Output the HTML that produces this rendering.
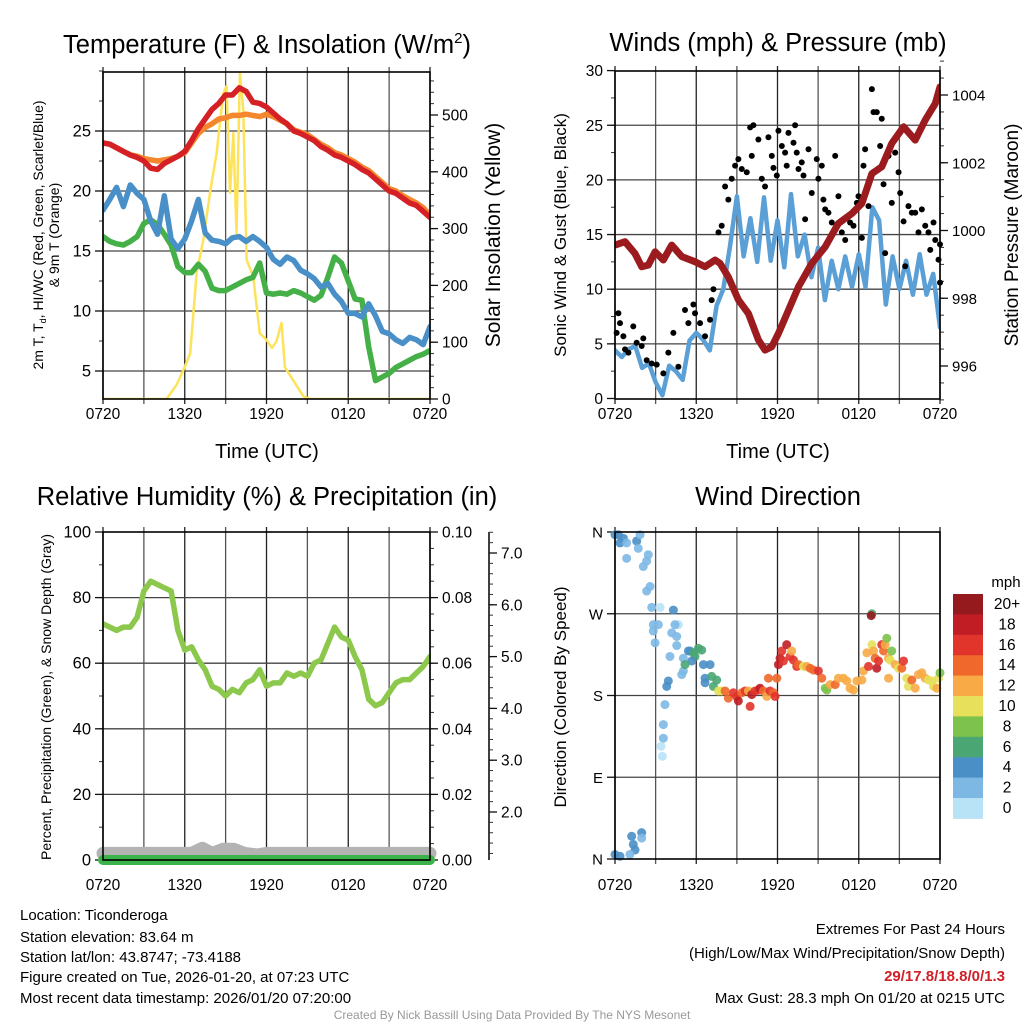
<!DOCTYPE html>
<html><head><meta charset="utf-8">
<style>
html,body{margin:0;padding:0;background:#fff;}
svg{display:block;font-family:"Liberation Sans",sans-serif;}
</style></head>
<body>
<svg id="root" width="1024" height="1024" viewBox="0 0 1024 1024" xmlns="http://www.w3.org/2000/svg">
<text x="267" y="53" font-size="25.5" text-anchor="middle">Temperature (F) &amp; Insolation (W/m<tspan dy="-10" font-size="15">2</tspan><tspan dy="10">)</tspan></text>
<text x="778" y="51" font-size="25.5" text-anchor="middle">Winds (mph) &amp; Pressure (mb)</text>
<text x="267" y="505" font-size="25.5" text-anchor="middle">Relative Humidity (%) &amp; Precipitation (in)</text>
<text x="778" y="505" font-size="25.5" text-anchor="middle">Wind Direction</text>
<text x="267" y="458" font-size="20" text-anchor="middle">Time (UTC)</text>
<text x="778" y="458" font-size="20" text-anchor="middle">Time (UTC)</text>
<text transform="translate(43,235) rotate(-90)" font-size="14" text-anchor="middle">2m T, T<tspan font-size="9" dy="3">d</tspan><tspan dy="-3">, HI/WC (Red, Green, Scarlet/Blue)</tspan></text>
<text transform="translate(59,235) rotate(-90)" font-size="14" text-anchor="middle">&amp; 9m T (Orange)</text>
<text transform="translate(500,235) rotate(-90)" font-size="21" text-anchor="middle">Solar Insolation (Yellow)</text>
<text transform="translate(566,235) rotate(-90)" font-size="17" text-anchor="middle">Sonic Wind &amp; Gust (Blue, Black)</text>
<text transform="translate(1018,235) rotate(-90)" font-size="19" text-anchor="middle">Station Pressure (Maroon)</text>
<text transform="translate(51,697) rotate(-90)" font-size="14" text-anchor="middle">Percent, Precipitation (Green), &amp; Snow Depth (Gray)</text>
<text transform="translate(566,697) rotate(-90)" font-size="17" text-anchor="middle">Direction (Colored By Speed)</text>
<g font-size="15">
<text x="20" y="920">Location: Ticonderoga</text>
<text x="20" y="942">Station elevation: 83.64 m</text>
<text x="20" y="962">Station lat/lon: 43.8747; -73.4188</text>
<text x="20" y="982">Figure created on Tue, 2026-01-20, at 07:23 UTC</text>
<text x="20" y="1003">Most recent data timestamp: 2026/01/20 07:20:00</text>
</g>
<g font-size="15" text-anchor="end">
<text x="1005" y="934">Extremes For Past 24 Hours</text>
<text x="1005" y="958">(High/Low/Max Wind/Precipitation/Snow Depth)</text>
<text x="1005" y="981" fill="#d01f26" font-weight="bold">29/17.8/18.8/0/1.3</text>
<text x="1005" y="1003">Max Gust: 28.3 mph On 01/20 at 0215 UTC</text>
</g>
<text x="512" y="1019" font-size="12" fill="#999" text-anchor="middle">Created By Nick Bassill Using Data Provided By The NYS Mesonet</text>
</svg>
<script>
// ---------- data ----------
const halfHours = [0,0.5,1,1.5,2,2.5,3,3.5,4,4.5,5,5.5,6,6.5,7,7.5,8,8.5,9,9.5,10,10.5,11,11.5,12,12.5,13,13.5,14,14.5,15,15.5,16,16.5,17,17.5,18,18.5,19,19.5,20,20.5,21,21.5,22,22.5,23,23.5,24];
const tempF = [24.0,23.9,23.6,23.3,23.0,22.8,22.5,21.9,21.8,22.3,22.6,22.9,23.3,24.2,25.2,26.0,26.8,27.3,28.0,28.0,28.6,28.3,27.4,27.3,27.0,26.5,26.0,25.6,25.0,24.8,24.5,24.2,23.7,23.4,23.0,22.8,22.5,22.2,21.8,21.5,21.0,20.5,20.0,19.8,19.4,19.0,18.8,18.3,17.8];
const temp9mF = [24.0,23.9,23.6,23.3,23.0,22.9,22.7,22.6,22.5,22.6,22.7,22.9,23.2,24.0,24.8,25.3,25.6,26.0,26.1,26.3,26.3,26.4,26.3,26.2,26.4,26.2,25.9,25.6,25.1,24.9,24.7,24.3,23.9,23.6,23.2,23.0,22.7,22.4,22.0,21.7,21.2,20.7,20.2,20.0,19.6,19.3,19.0,18.6,18.0];
const windChillF = [18.4,19.3,20.3,18.7,20.5,19.8,19.3,17.5,16.4,19.6,16.0,15.2,16.0,17.5,19.3,16.5,15.9,15.8,15.6,16.1,16.2,15.8,16.2,15.8,15.3,14.3,13.9,14.5,14.2,13.4,13.1,12.7,12.0,12.3,11.4,10.8,9.8,9.8,9.5,10.6,9.6,8.3,8.1,7.6,7.3,7.8,7.6,7.2,8.7];
const dewpointF = [16.2,15.8,15.6,15.5,15.8,16.2,17.3,17.6,17.2,16.4,15.5,13.7,13.2,13.2,13.9,13.3,11.9,11.7,11.7,12.0,12.3,12.6,12.8,14.0,11.5,11.4,11.5,11.4,11.7,11.5,11.2,10.9,11.3,12.8,14.5,14.0,12.5,11.0,10.9,7.0,4.2,4.5,4.8,5.3,5.6,5.9,6.2,6.4,6.7];
const solarHours = [0,4.67,5.4,5.9,6.4,6.87,7.36,7.85,8.34,8.83,9.07,9.32,9.56,9.8,10.05,10.3,10.54,11.03,11.5,12.0,12.4,12.74,13.1,13.35,13.96,14.7,15.2,24];
const solarW = [0,0,25,51,80,222,280,363,433,538,551,363,468,292,574,509,245,215,116,104,90,102,134,56,33,5,0,0];
const windMph = [4.4,3.8,4.5,4.8,2.8,3.2,1.5,0.3,3.0,2.5,1.7,5.3,6.0,5.4,4.4,8.5,10,14,18.5,13,16.5,12.5,18.4,12.6,16.3,12,18.7,13,15,11.1,13.8,9,12.6,10,13,10.2,13.2,10.2,17.5,16.3,8.6,13,10,12.6,9.5,13.2,9.5,11.4,6.5];
const gustHours = [0.12,0.25,0.37,0.62,0.74,0.99,1.35,1.6,1.97,2.09,2.34,2.71,3.08,3.57,3.94,4.31,4.68,5.17,5.42,5.79,5.91,6.28,6.65,7.02,7.14,7.27,7.64,7.88,8.13,8.37,8.62,8.87,9.11,9.36,9.73,9.98,10.22,10.1,10.59,10.84,11.08,11.33,11.58,11.7,11.95,12.07,12.32,12.56,12.68,12.81,13.18,13.3,13.42,13.55,13.79,13.92,14.04,14.29,14.53,14.9,15.02,15.27,15.39,15.52,15.76,16.01,16.26,16.5,16.75,17.0,17.36,17.61,17.86,17.98,18.23,18.35,18.47,18.72,18.97,19.09,19.33,19.58,19.7,19.83,19.95,20.2,20.44,20.69,20.94,21.06,21.31,21.43,21.67,21.92,22.17,22.41,22.66,22.91,23.15,23.28,23.52,23.65,23.89,24.0,24.0];
const gustMph = [6.0,7.8,6.9,5.7,4.5,4.2,6.6,5.1,4.8,5.5,3.5,3.2,3.1,2.3,4.2,6.0,2.9,8.1,6.9,8.6,7.8,6.9,5.7,7.2,9.0,10.0,15.2,15.8,19.4,18.2,20.1,21.3,21.9,21.0,20.7,24.8,25.0,22.2,23.7,20.1,19.4,23.9,22.2,21.1,20.4,24.5,23.1,22.5,21.3,24.3,23.4,25.0,22.5,21.0,21.6,20.4,16.4,22.8,18.8,21.9,20.1,21.3,18.2,17.3,17.0,16.1,22.2,18.5,15.2,14.5,16.1,15.8,17.9,18.5,14.7,21.3,22.8,17.6,28.3,26.2,26.2,23.1,25.6,19.6,13.3,22.2,17.9,22.5,20.7,18.8,16.2,12.1,17.6,17.0,17.0,15.2,17.3,15.8,15.2,13.6,16.1,14.5,12.7,14.1,10.6];
const pressHours = [0,0.74,1.48,1.97,2.46,2.96,3.57,4.19,4.93,5.91,6.65,7.39,7.76,8.37,9.11,9.85,10.59,11.08,11.58,12.07,12.81,13.55,14.53,15.52,16.5,17.49,18.23,18.97,19.7,20.44,21.31,22.17,22.91,23.65,24];
const pressMb = [999.57,999.67,999.32,998.93,998.98,999.37,999.13,999.57,999.23,999.08,998.93,999.13,999.03,998.63,997.95,997.55,996.77,996.47,996.57,996.96,997.65,998.34,999.03,999.52,1000.21,1000.5,1000.8,1001.68,1001.88,1002.57,1003.06,1002.67,1003.26,1003.75,1004.24];
const rhPct = [72,71,70,71,71,74,82,85,84,83,82,70,64,65,61,58,53,52,50,52,51,54,55,58,53,54,54,57,56,57,56,60,61,66,71,68,67,62,58,49,47,48,51,54,55,55,57,59,62];
const precipIn = [0,0];
const precipHours = [0,24];
const snowHours = [0,6.5,7.3,8.0,8.8,9.6,10.4,11.3,12.0,24];
const snowIn = [1.2,1.2,1.3,1.2,1.28,1.28,1.2,1.17,1.2,1.2];
const dirHours = [0,0.25,0.62,0.37,0.86,1.6,1.72,1.85,0.86,2.46,2.34,2.09,2.59,2.34,2.71,3.33,4.31,2.83,3.2,4.68,4.43,2.83,4.19,2.96,4.56,4.56,4.06,5.05,5.42,5.05,4.93,3.94,3.82,3.69,3.57,3.57,3.4,3.5,0,0.37,1.23,1.35,1.97,1.97,1.48,1.1,5.54,5.79,6.16,5.91,6.4,5.67,5.17,6.53,7.02,6.65,6.65,7.14,7.27,7.64,7.51,7.88,8.13,8.37,8.74,8.99,9.11,9.36,9.61,9.85,9.98,10.1,10.34,10.59,10.71,10.96,11.21,11.33,11.45,11.7,11.82,11.95,12.07,12.19,12.32,12.44,12.68,12.93,13.05,13.18,13.42,13.55,13.92,14.16,14.41,14.66,15.02,15.27,15.52,15.64,15.89,16.26,16.5,16.87,17.12,17.36,17.61,17.86,18.23,18.35,18.6,18.72,18.97,19.09,19.21,19.33,19.46,19.7,19.83,19.95,20.07,20.2,20.32,20.2,20.44,20.69,20.94,21.18,21.31,21.55,21.67,21.92,22.17,22.41,22.66,22.91,23.15,23.4,23.52,23.77,23.89,24,18.97,18.92];
const dirDeg = [357,357,353,348,348,350,342,357,331,335,328,322,300,295,277,277,274,258,258,258,258,251,249,238,245,235,223,221,229,207,203,196,190,170,148,133,124,113,5,3,25,16,29,23,10,5,229,227,232,223,230,218,214,214,214,199,194,201,190,185,197,185,185,177,183,179,174,183,185,185,168,181,185,186,188,185,179,199,185,183,179,199,214,221,229,218,236,223,229,219,212,214,212,212,210,208,207,199,188,186,192,192,199,199,196,188,186,196,197,207,227,212,236,229,221,210,218,236,229,236,243,221,219,199,229,214,210,210,218,199,190,197,188,203,205,199,197,196,190,188,199,205,270,268];
const dirMph = [4,4,4,4,2,4,2,2,2,2,2,2,2,2,2,0,4,2,2,0,2,2,2,2,2,2,2,2,4,2,2,4,4,2,2,2,0,0,4,4,4,4,4,2,4,2,4,6,6,6,6,4,6,4,4,4,4,6,6,10,6,10,14,14,16,16,18,14,16,12,16,18,16,16,18,14,12,14,16,14,16,14,18,18,16,16,18,16,12,16,16,14,10,12,14,14,16,14,8,8,12,14,12,12,12,12,12,12,12,12,12,16,10,12,14,18,16,16,14,12,8,12,10,12,8,12,10,14,16,10,10,14,12,12,12,12,10,10,10,12,10,8,6,20,12];
const speedBins = [0,2,4,6,8,10,12,14,16,18,20];
const binLabels = ['0','2','4','6','8','10','12','14','16','18','20+'];
const binColors = ['#b8e3f7','#7db8e4','#4a8fc6','#4aa673','#7cc24c','#e6e05a','#f7aa45','#f0682b','#e1342b','#c01d25','#941a1d'];
const timeLabels = ['0720','1320','1920','0120','0720'];
const timeLabelHours = [0,6,12,18,24];

// ---------- helpers ----------
const NS='http://www.w3.org/2000/svg';
const root=document.getElementById('root');
function mk(tag,attrs,parent){const e=document.createElementNS(NS,tag);for(const k in attrs)e.setAttribute(k,attrs[k]);(parent||root).appendChild(e);return e;}
function linScale(d0,d1,r0,r1){return v=>r0+(v-d0)*(r1-r0)/(d1-d0);}
function pathD(xs,ys,sx,sy){return xs.map((x,i)=>(i?'L':'M')+sx(x).toFixed(1)+','+sy(ys[i]).toFixed(1)).join('');}

function panel(key,x0,x1,y0,y1,labelY){
  const g=mk('g',{});
  
  
  const sx=linScale(0,24,x0,x1);
  const cp=mk('clipPath',{id:'clip-'+key},g);
  mk('rect',{x:x0,y:y0,width:x1-x0,height:y1-y0},cp);
  for(let h=0;h<=24;h+=3){
    const l=mk('line',{x1:sx(h),x2:sx(h),y1:y0-5,y2:y1+5,stroke:(h%6===0?'#222':'#555'),'stroke-width':1.3},g);
    
    
  }
  timeLabels.forEach((t,i)=>{
    const tx=mk('text',{x:sx(timeLabelHours[i]),y:labelY,'font-size':15.5,'text-anchor':'middle'},g);
    tx.textContent=t;
    
    
  });
  return {g,sx,x0,x1,y0,y1};
}
function yAxis(P,side,sy,majors,minors,labels,fs,offset){
  const ax=side==='left'?P.x0:(P.x1+(offset||0));
  const dir=side==='left'?-1:1;
  minors.forEach(v=>{const y=sy(v);const t=mk('line',{x1:ax,x2:ax+dir*4,y1:y,y2:y,stroke:'#333','stroke-width':1},P.g);
    });
  majors.forEach((v,i)=>{const y=sy(v);
    const t=mk('line',{x1:ax,x2:ax+dir*8,y1:y,y2:y,stroke:'#111','stroke-width':1.3},P.g);
    
    const tx=mk('text',{x:ax+dir*12,y:y+5.5,'font-size':fs||15,'text-anchor':side==='left'?'end':'start'},P.g);
    tx.textContent=labels[i];
    });
}
function hGrid(P,sy,vals){vals.forEach(v=>{const l=mk('line',{x1:P.x0,x2:P.x1,y1:sy(v),y2:sy(v),stroke:'#444','stroke-width':1.3},P.g);
  });}
function frame(P){const r=mk('rect',{x:P.x0,y:P.y0,width:P.x1-P.x0,height:P.y1-P.y0,fill:'none',stroke:'#000','stroke-width':1.6},P.g);
  }
function range(a,b,s){const r=[];for(let v=a;v<=b+1e-9;v+=s)r.push(+v.toFixed(4));return r;}
function line(P,key,xs,ys,sy,color,w,name){
  const p=mk('path',{d:pathD(xs,ys,P.sx,sy),fill:'none',stroke:color,'stroke-width':w,'stroke-linejoin':'round','stroke-linecap':'round','clip-path':'url(#clip-'+key+')'},P.g);
  
  
  return p;
}

// ---------- panel 1: temperature ----------
const P1=panel('temp',103,430,72,399,419);
const syT=linScale(25,5,131,371);
const syS=linScale(0,500,399,115);
hGrid(P1,syT,[5,10,15,20,25]);
yAxis(P1,'left',syT,[5,10,15,20,25],range(5,30,2.5),['5','10','15','20','25'],16.5);
yAxis(P1,'right',syS,[0,100,200,300,400,500],range(0,560,20),['0','100','200','300','400','500'],15.5);
line(P1,'temp',solarHours,solarW,syS,'#fde35a',2.5,'solar-insolation-line');
line(P1,'temp',halfHours,dewpointF,syT,'#44b047',5.5,'dewpoint-line');
line(P1,'temp',halfHours,windChillF,syT,'#4a90c8',5.5,'wind-chill-line');
line(P1,'temp',halfHours,temp9mF,syT,'#f4862e',5.5,'temp-9m-line');
line(P1,'temp',halfHours,tempF,syT,'#d52026',5.5,'temp-2m-line');
frame(P1);

// ---------- panel 2: winds ----------
const P2=panel('wind',615,940,71,399,419);
const syW=linScale(0,30,398.5,70.6);
const syP=linScale(996,1004,366,95);
hGrid(P2,syW,[5,10,15,20,25]);
yAxis(P2,'left',syW,[0,5,10,15,20,25,30],range(0,30,2.5),['0','5','10','15','20','25','30'],15.5);
yAxis(P2,'right',syP,[996,998,1000,1002,1004],range(995,1005,0.5),['996','998','1000','1002','1004'],15);
line(P2,'wind',halfHours,windMph,syW,'#5a9fd6',4.5,'sonic-wind-line');
gustHours.forEach((h,i)=>{
  const c=mk('circle',{cx:P2.sx(h),cy:syW(gustMph[i]),r:3,fill:'#000'},P2.g);
  
  
});
line(P2,'wind',pressHours,pressMb,syP,'#9b1b1e',7,'pressure-line');
frame(P2);

// ---------- panel 3: humidity ----------
const P3=panel('rh',103,430,532,860,890);
const syR=linScale(0,100,860,532);
const syPr=linScale(0,0.1,860,532);
const sySn=linScale(2,7,812,553);
{const cp=mk('clipPath',{id:'clip-rhx'},P3.g);mk('rect',{x:90,y:532,width:355,height:345},cp);}
hGrid(P3,syR,[20,40,60,80]);
yAxis(P3,'left',syR,[0,20,40,60,80,100],range(0,100,10),['0','20','40','60','80','100'],16.5);
yAxis(P3,'right',syPr,[0,0.02,0.04,0.06,0.08,0.10],range(0,0.1,0.005),['0.00','0.02','0.04','0.06','0.08','0.10'],15.5);
{const a=mk('line',{x1:489,x2:489,y1:532,y2:860,stroke:'#000','stroke-width':1.5},P3.g);
 }
yAxis(P3,'right',sySn,[2,3,4,5,6,7],range(1.2,7.4,0.2),['2.0','3.0','4.0','5.0','6.0','7.0'],15.5,59);
line(P3,'rhx',snowHours,snowIn,sySn,'#b3b3b3',13,'snow-depth-line');
line(P3,'rhx',precipHours,precipIn,syPr,'#3bb34a',10,'precipitation-line');
line(P3,'rh',halfHours,rhPct,syR,'#8cc84b',5.5,'relative-humidity-line');
frame(P3);

// ---------- panel 4: wind direction ----------
const P4=panel('dir',615,940,532,859,890);
const syD=linScale(0,360,859,532);
hGrid(P4,syD,[90,180,270]);
yAxis(P4,'left',syD,[0,90,180,270,360],[],['N','E','S','W','N'],15);
function binIndex(m){let k=0;speedBins.forEach((b,i)=>{if(m>=b)k=i;});return k;}
dirHours.forEach((h,i)=>{
  const c=mk('circle',{cx:P4.sx(h),cy:syD(dirDeg[i]),r:4.5,fill:binColors[binIndex(dirMph[i])],'fill-opacity':0.9},P4.g);
  
  
});
frame(P4);

// colorbar
const cb=mk('g',{});


const cbTop=594,cbH=20.4;
{const t=mk('text',{x:1006,y:587,'font-size':15,'text-anchor':'middle'},cb);t.textContent='mph';
 }
binColors.slice().reverse().forEach((col,i)=>{
  const r=mk('rect',{x:953,y:cbTop+i*cbH,width:30,height:cbH+0.5,fill:col},cb);
  
  
  const t=mk('text',{x:1007,y:cbTop+i*cbH+15,'font-size':15.5,'text-anchor':'middle'},cb);
  t.textContent=binLabels[binLabels.length-1-i];
  
  
});
</script>
</body></html>
